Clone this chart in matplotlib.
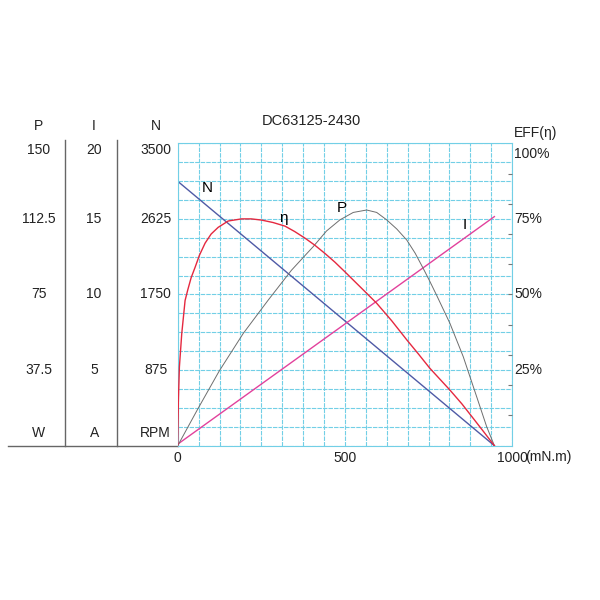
import matplotlib
matplotlib.use("Agg")
import matplotlib.pyplot as plt
import matplotlib.transforms as mtransforms
import numpy as np

plt.rcParams['font.family'] = ['Liberation Sans', 'DejaVu Sans']

title = "DC63125-2430"

# Torque (mN.m) vs speed
n_torque = [0, 947]
n_speed = [3060, 0]

# Current
i_torque = [0, 947]
i_current = [0.1, 15.15]

# Efficiency (%)
eff_torque = [0, 1, 2, 5, 12, 22, 30, 40, 52, 65, 82, 100, 121, 151, 191, 220,
              251, 285, 321, 350, 381, 410, 440, 470, 500, 555, 595, 640, 685,
              720, 754, 814, 850, 884, 915, 947]
eff_values = [0, 8, 15, 26, 37, 48, 51.5, 55.5, 59, 63, 67, 70, 72.2, 74.3,
              75.0, 75.0, 74.6, 73.8, 72.6, 70.8, 68.6, 66.3, 63.6, 60.7, 57.5,
              51.5, 47.1, 41.3, 35, 30.3, 25.6, 18.4, 13.8, 9.0, 4.6, 0]

# Output power (W)
p_torque = [0, 60, 124, 196, 271, 340, 405, 445, 485, 525, 565, 595, 625, 655,
            685, 710, 734, 754, 774, 814, 854, 894, 924, 947]
p_values = [0, 18.2, 37.0, 55.7, 72.3, 87, 98.7, 106.5, 112, 115.7, 116.9,
            115.7, 112, 107.5, 102, 95.5, 88, 81.5, 74.7, 60.7, 44.1, 24.3,
            9.4, 0]

# Axis labels
x_ticks = [0, 500, 1000]
x_labels = ["0", "500", "1000"]
n_ticks = [875, 1750, 2625, 3500]
n_labels = ["875", "1750", "2625", "3500"]
i_ticks = [5, 10, 15, 20]
i_labels = ["5", "10", "15", "20"]
p_ticks = [37.5, 75, 112.5, 150]
p_labels = ["37.5", "75", "112.5", "150"]
e_ticks = [25, 50, 75, 100]
e_labels = ["25%", "50%", "75%", "100%"]

grid_c = '#72cfe6'
fs = 10

fig = plt.figure(figsize=(6, 6), dpi=100)
ax = fig.add_axes([0.2962, 0.2572, 0.5573, 0.504])
ax.set_xlim(0, 1000)
ax.set_ylim(0, 3500)
ax.set_xticks(x_ticks)
ax.set_xticklabels(x_labels, fontsize=fs, color='#222222')
ax.set_xticks(np.arange(0, 1000.1, 62.5), minor=True)
ax.set_yticks(np.arange(0, 3500.1, 218.75))
ax.set_yticklabels([])
ax.tick_params(which='both', length=0, pad=4)
ax.grid(True, which='both', color=grid_c, lw=0.8, ls=(0, (4, 1)))
for s in ax.spines.values():
    s.set_color(grid_c)
    s.set_linewidth(0.8)
    s.set_linestyle((0, (4, 1)))

axI = ax.twinx(); axI.set_ylim(0, 20)
axP = ax.twinx(); axP.set_ylim(0, 150)
axE = ax.twinx(); axE.set_ylim(0, 100)
for a in (axI, axP, axE):
    a.set_yticks([])
    for s in a.spines.values():
        s.set_visible(False)
axE.set_yticks(np.arange(10, 100, 10))
axE.set_yticklabels([])
axE.tick_params(axis='y', direction='in', length=3, color='#777777', width=0.8)

# Curves
ax.plot(n_torque, n_speed, color='#4f5aa6', lw=1.0)
axI.plot(i_torque, i_current, color='#e2419c', lw=1.0)
axE.plot(eff_torque, eff_values, color='#e5283f', lw=1.0)
axP.plot(p_torque, p_values, color='#6e6e6e', lw=0.7)

# Curve labels
ax.text(88, 2983, "N", fontsize=11, ha='center', va='center')
axE.text(315, 75.3, "η", fontsize=11, ha='center', va='center')
axP.text(490, 117.9, "P", fontsize=11, ha='center', va='center')
axI.text(859, 14.6, "I", fontsize=11, ha='center', va='center')

# Left scale columns
def column(axis, ticks, labels, xfrac):
    tr = mtransforms.blended_transform_factory(ax.transAxes, axis.transData)
    for t, l in zip(ticks, labels):
        va = 'top' if t == ticks[-1] else 'center'
        axis.text(xfrac, t, l, transform=tr, ha='center', va=va,
                  fontsize=fs, color='#222222', clip_on=False)

column(ax, n_ticks, n_labels, -0.066)
column(axI, i_ticks, i_labels, -0.250)
column(axP, p_ticks, p_labels, -0.415)

for xf, h in [(-0.415, "P"), (-0.250, "I"), (-0.066, "N")]:
    ax.text(xf, 1.057, h, transform=ax.transAxes, ha='center', va='center',
            fontsize=fs, color='#222222')
for xf, u in [(-0.415, "W"), (-0.250, "A"), (-0.066, "RPM")]:
    ax.text(xf, 0.042, u, transform=ax.transAxes, ha='center', va='center',
            fontsize=fs, color='#222222')

line_c = '#666666'
ax.plot([-0.5075, 0], [0, 0], transform=ax.transAxes, color=line_c, lw=1.0, clip_on=False)
for xf in (-0.337, -0.1815):
    ax.plot([xf, xf], [0, 1.011], transform=ax.transAxes, color=line_c, lw=1.0, clip_on=False)

# Right efficiency labels
trE = mtransforms.blended_transform_factory(ax.transAxes, axE.transData)
for t, l in zip(e_ticks, e_labels):
    y = t - 3.5 if t == 100 else t
    axE.text(1.006, y, l, transform=trE, ha='left', va='center', fontsize=fs,
             color='#222222', clip_on=False)
ax.text(1.006, 1.034, "EFF(η)", transform=ax.transAxes, ha='left', va='center',
        fontsize=fs, color='#222222')

# x unit
ax.text(1.038, -0.037, "(mN.m)", transform=ax.transAxes, ha='left', va='center',
        fontsize=fs, color='#222222')

# Title
ax.text(0.40, 1.075, title, transform=ax.transAxes, ha='center', va='center',
        fontsize=10.5, color='#222222')

fig.savefig("out.png", dpi=100, facecolor='white')
